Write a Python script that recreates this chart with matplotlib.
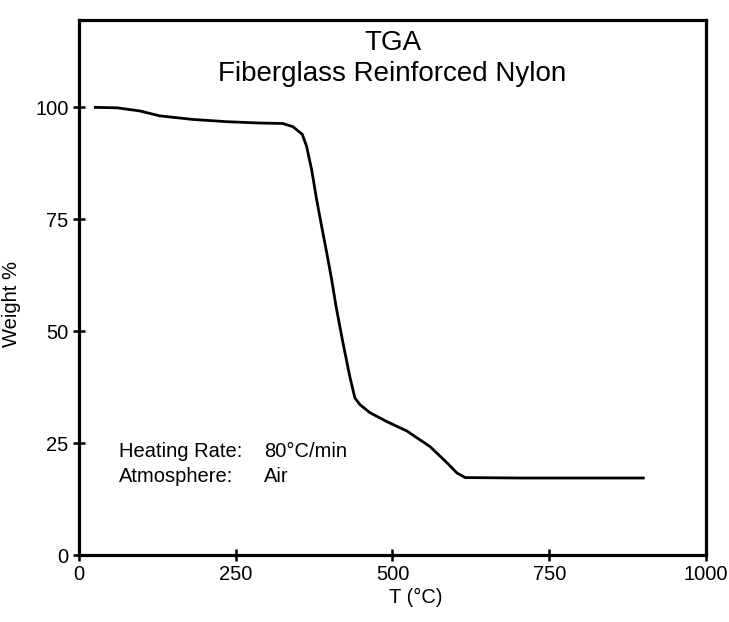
#!/usr/bin/env python3
# -*- coding: utf-8 -*-
"""
TGA curve of fiberglass reinforced nylon (weight % vs temperature)
"""

import matplotlib
matplotlib.use('Agg')
import matplotlib.pyplot as plt

###############################################################################
# data
temperature = [26, 61, 97, 129, 182, 236, 289, 325, 341, 356, 363, 371, 379,
               387, 395, 403, 410, 421, 432, 440, 448, 464, 491, 523, 560,
               587, 603, 616, 703, 863, 900]
weight = [100.0, 99.9, 99.2, 98.1, 97.3, 96.8, 96.5, 96.4, 95.7, 94.0, 91.3,
          86.1, 79.4, 73.4, 67.6, 61.5, 55.5, 47.4, 39.8, 35.1, 33.6, 31.8,
          29.8, 27.7, 24.2, 20.6, 18.3, 17.3, 17.2, 17.2, 17.2]

xTicks = [0, 250, 500, 750, 1000]
yTicks = [0, 25, 50, 75, 100]

titleLines = ['TGA', 'Fiberglass Reinforced Nylon']
infoLabels = ['Heating Rate:', 'Atmosphere:']
infoValues = ['80°C/min', 'Air']


def main():

    plt.rcParams['font.family'] = ['Liberation Sans', 'DejaVu Sans']

    fig = plt.figure(figsize=(7.29, 6.22), dpi=100)
    ax = fig.add_axes([0.1084, 0.1077, 0.860, 0.860])

    ### curve
    ax.plot(temperature, weight, color='black', linewidth=2.0,
            solid_joinstyle='round')

    ax.set_xlim(0, 1000)
    ax.set_ylim(0, 119.5)
    ax.set_xticks(xTicks)
    ax.set_yticks(yTicks)
    ax.tick_params(axis='both', direction='inout', length=9, width=1.8,
                   labelsize=14.5, pad=3)
    for spine in ax.spines.values():
        spine.set_linewidth(2.3)

    ### labels
    ax.set_xlabel('T (°C)', fontsize=14.5)
    ax.xaxis.set_label_coords(0.537, -0.062)
    ax.set_ylabel('Weight %', fontsize=14.5)
    ax.yaxis.set_label_coords(-0.092, 0.47)

    ### title inside the frame
    ax.text(0.5, 0.958, titleLines[0], transform=ax.transAxes, ha='center',
            va='center', fontsize=20)
    ax.text(0.5, 0.900, titleLines[1], transform=ax.transAxes, ha='center',
            va='center', fontsize=20)

    ### run conditions
    for i in range(len(infoLabels)):
        yPos = 0.193 - i * 0.046
        ax.text(0.064, yPos, infoLabels[i], transform=ax.transAxes,
                ha='left', va='center', fontsize=14.5)
        ax.text(0.295, yPos, infoValues[i], transform=ax.transAxes,
                ha='left', va='center', fontsize=14.5)

    fig.savefig('out.png', dpi=100)
    plt.close()


if __name__ == '__main__':
    main()
